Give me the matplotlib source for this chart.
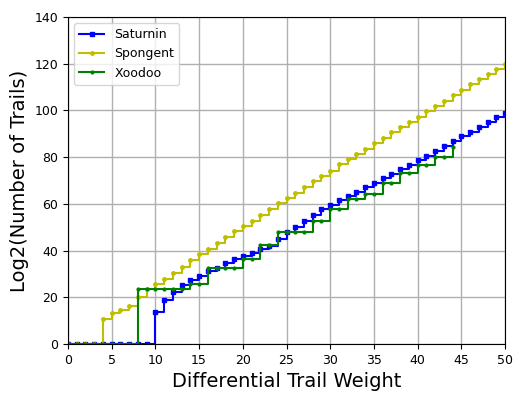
import matplotlib
matplotlib.use("Agg")
import matplotlib.pyplot as plt

weights = list(range(0, 51))
saturnin = [0, 0, 0, 0, 0, 0, 0, 0, 0, 0,
            13.8, 18.8, 22.2, 25.1, 27.3, 29.1, 31.2, 32.4, 34.5, 36.3,
            37.7, 39.1, 40.5, 42.1, 44.9, 47.8, 50.2, 52.8, 55.2, 57.7,
            59.4, 61.6, 63.4, 65.2, 67.1, 69.1, 70.9, 72.6, 74.8, 76.6,
            78.6, 80.6, 82.6, 84.9, 86.8, 89.0, 90.9, 93.0, 95.2, 97.1, 98.9]
spongent = [0, 0, 0, 0, 10.6, 13.1, 14.4, 16.3, 20.3, 23.4,
            25.7, 27.8, 30.3, 33.1, 36.0, 38.4, 40.7, 43.2, 45.7, 48.2,
            50.5, 52.8, 55.2, 57.8, 60.2, 62.6, 64.7, 67.1, 69.6, 71.9,
            74.2, 76.9, 79.0, 81.3, 83.5, 85.9, 88.1, 90.6, 92.8, 95.2,
            97.3, 99.7, 102.0, 104.2, 106.6, 108.7, 111.2, 113.3, 115.6, 117.6, 119.8]
xoodoo_w = list(range(0, 45))
xoodoo = [0, 0, 0, 0, 0, 0, 0, 0, 23.4, 23.4,
          23.4, 23.4, 23.4, 23.4, 25.9, 25.9, 32.4, 32.4, 32.4, 32.4,
          36.2, 36.2, 42.2, 42.2, 47.8, 47.8, 47.8, 47.8, 52.7, 52.7,
          58.0, 58.0, 61.9, 61.9, 64.1, 64.1, 68.9, 68.9, 73.2, 73.2,
          76.8, 76.8, 79.9, 79.9, 84.5]

fig = plt.figure(figsize=(5.18, 3.95), dpi=100)
ax = fig.add_axes([68/518, 1-344/395, (505-68)/518, (344-17)/395])
ax.plot(weights, saturnin, color='b', drawstyle='steps-post', marker='s', markersize=2.5, lw=1.5, label='Saturnin')
ax.plot(weights, spongent, color='y', drawstyle='steps-post', marker='o', markersize=2.5, lw=1.5, label='Spongent')
ax.plot(xoodoo_w, xoodoo, color='g', drawstyle='steps-post', marker='.', markersize=4, lw=1.5, label='Xoodoo')
ax.set_xlim(0, 50)
ax.set_ylim(0, 140)
ax.set_xticks(range(0, 51, 5))
ax.set_yticks(range(0, 141, 20))
ax.tick_params(labelsize=9)
ax.grid(True, color='#b0b0b0', lw=1)
ax.set_xlabel('Differential Trail Weight', fontsize=14)
ax.set_ylabel('Log2(Number of Trails)', fontsize=14)
ax.legend(loc='upper left', fontsize=9)
fig.savefig('out.png', dpi=100)
